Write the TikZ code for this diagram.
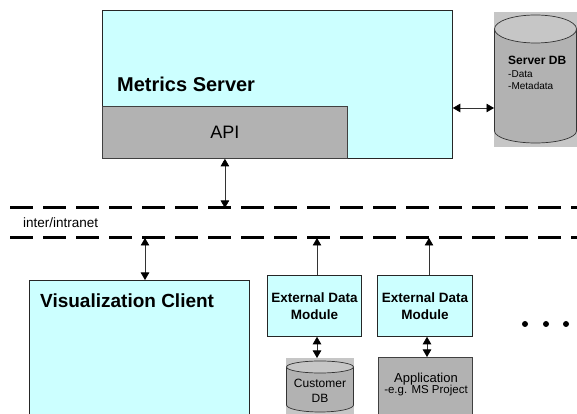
\documentclass[tikz,border=0pt]{standalone}
\usepackage{fontspec}
\setmainfont{Liberation Sans}
\usetikzlibrary{arrows.meta}
\definecolor{boxcyan}{HTML}{CCFFFF}
\definecolor{boxgray}{HTML}{B2B2B2}
\definecolor{dbback}{HTML}{C6C6C6}
\begin{document}
\begin{tikzpicture}[x=1pt,y=1pt,
  box/.style={draw=black!85, line width=0.8pt, fill=boxcyan, inner sep=0pt, anchor=north west},
  graybox/.style={draw=black!75, line width=0.8pt, fill=boxgray, inner sep=0pt, anchor=north west},
  lbl/.style={inner sep=0pt, anchor=west},
  link/.style={draw=black!80, line width=0.7pt},
  tip/.tip={Triangle[length=7.5pt,width=8.5pt,color=black]},
  dbl/.style={link, tip-tip},
  uni/.style={link, -tip},
  netline/.style={line width=3pt, dash pattern=on 23pt off 10pt},
  cyl/.style={draw=black!80, line width=0.7pt},
  dot/.style={circle, fill=black, inner sep=0pt, minimum size=6pt}]
\clip (0,0) rectangle (577,414);
\fill[white] (0,0) rectangle (577,414);

% Metrics server
\node[box, minimum width=350pt, minimum height=148pt] (ms) at (102,404) {};
\node[graybox, minimum width=245pt, minimum height=52pt, font=\fontsize{18}{20}\selectfont] (api) at (102,308) {API};
\node[lbl, font=\fontsize{20}{22}\selectfont\bfseries] (mslabel) at (117,330) {Metrics Server};

% Server DB
\node[inner sep=0pt, anchor=north west, fill=dbback, minimum width=83pt, minimum height=135pt] (sdb) at (494,402) {};
\fill[boxgray] (494.5,385) -- (494.5,283) arc[start angle=180, end angle=360, x radius=41, y radius=12] -- (576.5,385) -- cycle;
\draw[cyl] (494.5,385) -- (494.5,283) arc[start angle=180, end angle=360, x radius=41, y radius=12] -- (576.5,385);
\draw[cyl, fill=dbback] (535.5,385) ellipse[x radius=41, y radius=14];
\node[lbl, font=\fontsize{12}{14}\selectfont\bfseries] (sdbt1) at (508,354) {Server DB};
\node[lbl, font=\fontsize{10}{12}\selectfont] (sdbt2) at (508,340) {-Data};
\node[lbl, font=\fontsize{10}{12}\selectfont] (sdbt3) at (508,328) {-Metadata};
\draw[dbl] (ms.east |- 0,306) -- (sdb.west |- 0,306);

% network
\coordinate (netA) at (10,206);
\coordinate (netAe) at (600,206);
\coordinate (netB) at (10,176);
\coordinate (netBe) at (600,176);
\draw[netline] (netA) -- (netAe);
\draw[netline] (netB) -- (netBe);
\node[lbl, font=\fontsize{13.5}{15}\selectfont] (net) at (23,191) {inter/intranet};
\draw[dbl] (api.south) -- (api.south |- netA);

% client
\node[box, minimum width=220pt, minimum height=160pt] (client) at (29,134) {};
\node[lbl, font=\fontsize{19}{21}\selectfont\bfseries] (clientlabel) at (40,113) {Visualization Client};
\coordinate (c1) at (145,176);
\draw[dbl] (c1) -- (c1 |- client.north);

% external data modules
\node[box, minimum width=94pt, minimum height=61pt, align=center, font=\fontsize{13.5}{17}\selectfont\bfseries] (edm1) at (267,139) {External Data\\Module};
\node[box, minimum width=95pt, minimum height=61pt, align=center, font=\fontsize{13.5}{17}\selectfont\bfseries] (edm2) at (377,139) {External Data\\Module};
\coordinate (e1) at (317,176);
\coordinate (e2) at (429,176);
\draw[uni] (e1 |- edm1.north) -- (e1);
\draw[uni] (e2 |- edm2.north) -- (e2);

% customer DB
\node[inner sep=0pt, anchor=north west, fill=dbback, minimum width=68pt, minimum height=57pt] (cdb) at (286,56) {};
\fill[boxgray] (286.5,47) -- (286.5,9) arc[start angle=180, end angle=360, x radius=33.5, y radius=7] -- (353.5,47) -- cycle;
\draw[cyl] (286.5,47) -- (286.5,9) arc[start angle=180, end angle=360, x radius=33.5, y radius=7] -- (353.5,47);
\draw[cyl, fill=dbback] (320,47) ellipse[x radius=33.5, y radius=6];
\node[inner sep=0pt, font=\fontsize{12}{14}\selectfont] (cdbt1) at (320,31) {Customer};
\node[inner sep=0pt, font=\fontsize{12}{14}\selectfont] (cdbt2) at (320,16) {DB};
\draw[dbl] (edm1.south -| e1) -- (cdb.north -| e1);

% application
\node[graybox, minimum width=94pt, minimum height=80pt] (app) at (378,57) {};
\node[inner sep=0pt, font=\fontsize{13}{15}\selectfont] (appt1) at (426,35) {Application};
\node[inner sep=0pt, font=\fontsize{11.5}{13}\selectfont] (appt2) at (426,23) {-e.g. MS Project};
\coordinate (e3) at (427,0);
\draw[dbl] (edm2.south -| e3) -- (app.north -| e3);

% dots
\node[dot] (d1) at (525,90) {};
\node[dot] (d2) at (546,90) {};
\node[dot] (d3) at (566,90) {};
\end{tikzpicture}
\end{document}
